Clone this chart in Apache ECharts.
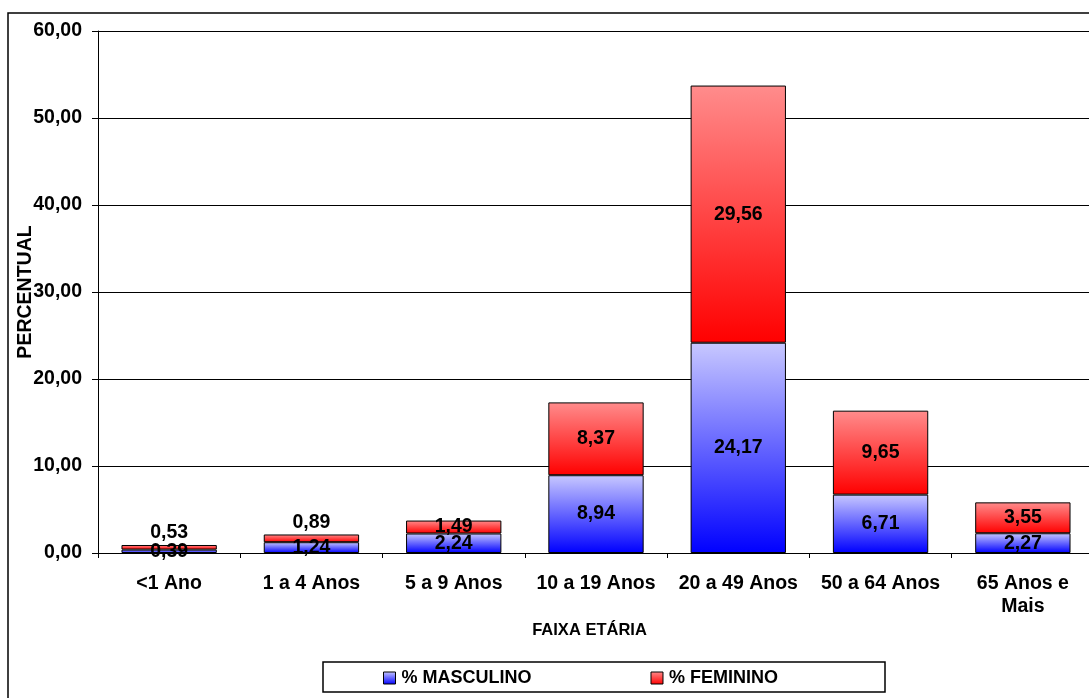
<!DOCTYPE html>
<html>
<head>
<meta charset="utf-8">
<script src="https://cdn.jsdelivr.net/npm/echarts@6/dist/echarts.min.js"></script>
<style>
html,body{margin:0;padding:0;background:#fff;}
#chart{width:1089px;height:698px;}
</style>
</head>
<body>
<div id="chart"></div>
<script>
const categories = ['<1 Ano', '1 a 4 Anos', '5 a 9 Anos', '10 a 19 Anos', '20 a 49 Anos', '50 a 64 Anos', '65 Anos e\nMais'];
const masculino = [0.39, 1.24, 2.24, 8.94, 24.17, 6.71, 2.27];
const feminino = [0.53, 0.89, 1.49, 8.37, 29.56, 9.65, 3.55];
const seriesNames = ['% MASCULINO', '% FEMININO'];
const labelAboveIdx = [0, 1];

const FONT = 'Liberation Sans, Arial, sans-serif';
const fmt = v => Number(v).toFixed(2).replace('.', ',');

const blueGrad = new echarts.graphic.LinearGradient(0, 0, 0, 1, [
  {offset: 0, color: '#c8c8ff'}, {offset: 1, color: '#0000ff'}
]);
const redGrad = new echarts.graphic.LinearGradient(0, 0, 0, 1, [
  {offset: 0, color: '#ff8c8c'}, {offset: 1, color: '#ff0000'}
]);

const chart = echarts.init(document.getElementById('chart'), null, {renderer: 'canvas'});

const labelBase = {
  show: true, position: 'inside', color: '#000', fontFamily: FONT,
  fontWeight: 'bold', fontSize: 19.5, formatter: p => fmt(p.value)
};

chart.setOption({
  animation: false,
  backgroundColor: '#fff',
  graphic: [
    {type: 'rect', shape: {x: 8, y: 13, width: 1200, height: 800}, style: {fill: 'none', stroke: '#000', lineWidth: 1.5}, z: 0},
    {type: 'rect', shape: {x: 323, y: 662, width: 562, height: 30}, style: {fill: '#fff', stroke: '#000', lineWidth: 1.5}, z: 1}
  ],
  grid: {left: 98, right: -5, top: 31, bottom: 145, containLabel: false, outerBoundsMode: 'none'},
  legend: {
    left: 383, top: 669, padding: 0, itemGap: 119, itemWidth: 12, itemHeight: 12,
    icon: 'rect', z: 5,
    textStyle: {fontFamily: FONT, fontWeight: 'bold', fontSize: 18, color: '#000', padding: [0, 0, 0, 1]},
    data: [
      {name: seriesNames[0], itemStyle: {color: blueGrad, borderColor: '#000', borderWidth: 1}},
      {name: seriesNames[1], itemStyle: {color: redGrad, borderColor: '#000', borderWidth: 1}}
    ]
  },
  xAxis: {
    type: 'category', data: categories,
    name: 'FAIXA ETÁRIA', nameLocation: 'middle', nameGap: 69, nameMoveOverlap: false,
    nameTextStyle: {fontFamily: FONT, fontWeight: 'bold', fontSize: 16.5, color: '#000', padding: [0, 13, 0, 0]},
    axisLine: {lineStyle: {color: '#000', width: 1}},
    axisTick: {show: true, length: 5, lineStyle: {color: '#000'}},
    axisLabel: {fontFamily: FONT, fontWeight: 'bold', fontSize: 19.5, color: '#000', margin: 19, lineHeight: 23, interval: 0}
  },
  yAxis: {
    type: 'value', min: 0, max: 60, interval: 10,
    name: 'PERCENTUAL', nameLocation: 'middle', nameGap: 62, nameRotate: 90, nameMoveOverlap: false,
    nameTextStyle: {fontFamily: FONT, fontWeight: 'bold', fontSize: 19.5, color: '#000'},
    axisLine: {show: true, lineStyle: {color: '#000', width: 1}},
    axisTick: {show: true, length: 6, lineStyle: {color: '#000'}},
    splitLine: {show: true, lineStyle: {color: '#000', width: 1}},
    axisLabel: {fontFamily: FONT, fontWeight: 'bold', fontSize: 19.5, color: '#000', margin: 16, formatter: v => fmt(v)}
  },
  series: [
    {
      name: seriesNames[0], type: 'bar', stack: 'total', barWidth: '67%',
      itemStyle: {color: blueGrad, borderColor: '#000', borderWidth: 1},
      label: labelBase,
      data: masculino
    },
    {
      name: seriesNames[1], type: 'bar', stack: 'total', barWidth: '67%',
      itemStyle: {color: redGrad, borderColor: '#000', borderWidth: 1},
      label: labelBase,
      data: feminino.map((v, i) => labelAboveIdx.includes(i)
        ? {value: v, label: {position: 'top', distance: 2}}
        : v)
    }
  ]
});
</script>
</body>
</html>
